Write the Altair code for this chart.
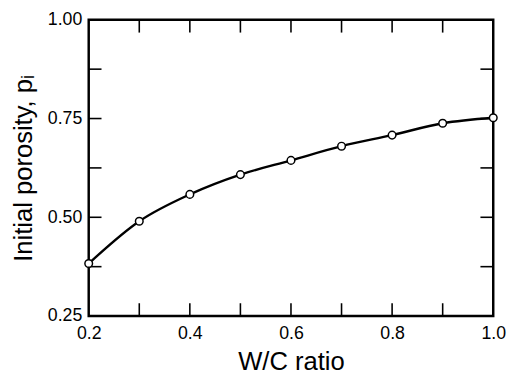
import altair as alt
import pandas as pd

wc_ratio = [0.2, 0.3, 0.4, 0.5, 0.6, 0.7, 0.8, 0.9, 1.0]
porosity = [0.383, 0.490, 0.558, 0.608, 0.644, 0.680, 0.708, 0.738, 0.752]

x_label_values = [0.2, 0.4, 0.6, 0.8, 1.0]
y_label_values = [0.25, 0.50, 0.75, 1.00]
x_minor_ticks = [0.3, 0.4, 0.5, 0.6, 0.7, 0.8, 0.9]
y_minor_ticks = [0.375, 0.5, 0.625, 0.75, 0.875]

W, H = 411, 301
TICK = 13
FONT = "Liberation Sans"

df = pd.DataFrame({"wc": wc_ratio, "p": porosity})
xt = pd.DataFrame({"v": x_minor_ticks})
yt = pd.DataFrame({"v": y_minor_ticks})

xs = alt.Scale(domain=[0.2, 1.0], nice=False, zero=False)
ys = alt.Scale(domain=[0.25, 1.0], nice=False, zero=False)

x_axis = alt.Axis(values=x_label_values, format=".1f", tickSize=0, grid=False,
                  domain=False, labelFontSize=18, labelFont=FONT, labelColor="black",
                  labelPadding=9, title="W/C ratio", titleFontSize=26,
                  titleFont=FONT, titleFontWeight="normal", titleColor="black",
                  titlePadding=6, labelFlush=False)
y_axis = alt.Axis(values=y_label_values, format=".2f", tickSize=0, grid=False,
                  domain=False, labelFontSize=18, labelFont=FONT, labelColor="black",
                  labelPadding=7, title="Initial porosity, pᵢ", titleFontSize=26,
                  titleFont=FONT, titleFontWeight="normal", titleColor="black",
                  titlePadding=11, labelFlush=False)

line = alt.Chart(df).mark_line(interpolate="monotone", color="black", strokeWidth=2.4).encode(
    x=alt.X("wc:Q", scale=xs, axis=x_axis),
    y=alt.Y("p:Q", scale=ys, axis=y_axis),
)
points = alt.Chart(df).mark_point(filled=True, fill="white", stroke="black",
                                  strokeWidth=1.5, size=60, opacity=1).encode(
    x=alt.X("wc:Q", scale=xs),
    y=alt.Y("p:Q", scale=ys),
)

bottom_ticks = alt.Chart(xt).mark_rule(color="black", strokeWidth=1.6).encode(
    x=alt.X("v:Q", scale=xs), y=alt.value(H), y2=alt.value(H - TICK))
top_ticks = alt.Chart(xt).mark_rule(color="black", strokeWidth=1.6).encode(
    x=alt.X("v:Q", scale=xs), y=alt.value(0), y2=alt.value(TICK))
left_ticks = alt.Chart(yt).mark_rule(color="black", strokeWidth=1.6).encode(
    y=alt.Y("v:Q", scale=ys), x=alt.value(0), x2=alt.value(TICK))
right_ticks = alt.Chart(yt).mark_rule(color="black", strokeWidth=1.6).encode(
    y=alt.Y("v:Q", scale=ys), x=alt.value(W), x2=alt.value(W - TICK))

chart = alt.layer(line, bottom_ticks, top_ticks, left_ticks, right_ticks, points).properties(
    width=W, height=H,
    background="white",
    autosize=alt.AutoSizeParams(type="none"),
    padding={"left": 82, "top": 9, "right": 15, "bottom": 61},
).configure_view(stroke="black", strokeWidth=2.5)

chart.save("out.html", embed_options={"renderer": "svg", "actions": False})
